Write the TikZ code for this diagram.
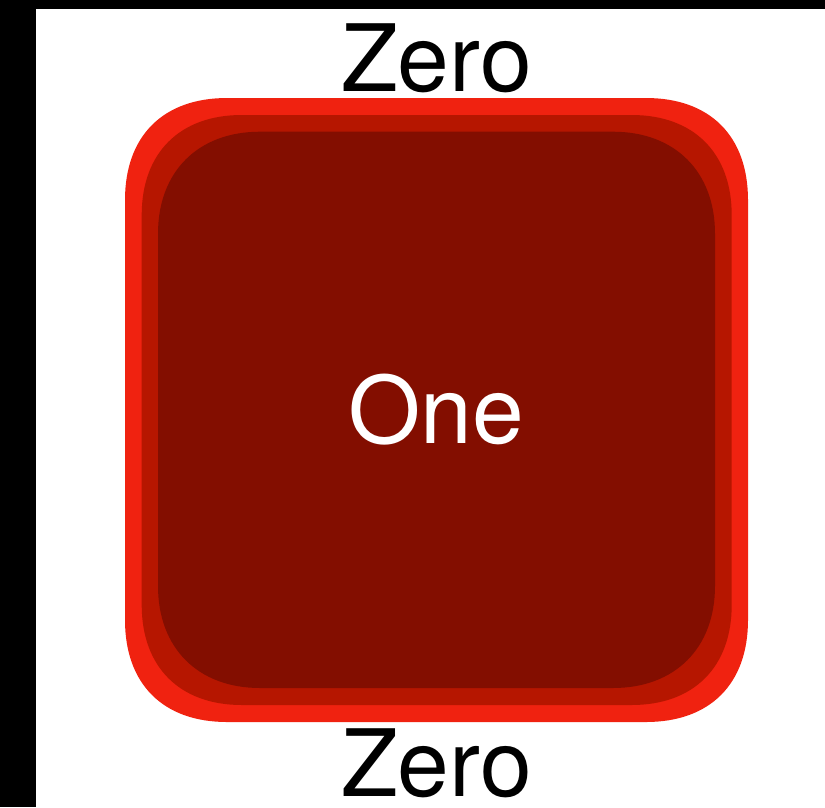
\documentclass[tikz,border=0pt]{standalone}
\usepackage{fontspec}
\setmainfont{TeX Gyre Heros}
\usepackage{tikz}
\usetikzlibrary{positioning}
\definecolor{bandred}{RGB}{240,34,16}
\definecolor{midred}{RGB}{182,22,0}
\definecolor{corered}{RGB}{131,14,0}
% soft-cornered square: colour, x0, y0, x1, y1, corner length, control
\newcommand{\softsquare}[7]{%
  \fill[#1] (#2+#6,#3) -- (#4-#6,#3)
    .. controls (#4-#7,#3) and (#4,#3+#7) .. (#4,#3+#6) -- (#4,#5-#6)
    .. controls (#4,#5-#7) and (#4-#7,#5) .. (#4-#6,#5) -- (#2+#6,#5)
    .. controls (#2+#7,#5) and (#2,#5-#7) .. (#2,#5-#6) -- (#2,#3+#6)
    .. controls (#2,#3+#7) and (#2+#7,#3) .. cycle;}

\begin{document}
\begin{tikzpicture}[
    x=1pt, y=-1pt,
    band/.style={rectangle, inner sep=0, outer sep=0},
    labeltext/.style={inner sep=0, font=\fontsize{93}{110}\selectfont},
]
    \useasboundingbox (0,0) rectangle (825,807);

    % Black edges
    \fill[black] (0,0) rectangle (825,9);
    \fill[black] (0,0) rectangle (36,807);

    % Layers of the box
    \softsquare{bandred}{125}{98}{748}{722}{102}{38}
    \softsquare{midred}{141.7}{115}{731.7}{705}{100}{38}
    \softsquare{corered}{158}{131.7}{715}{688}{102}{40}
    \node[band, minimum width=623pt, minimum height=624pt] (frame) at (436.5,410) {};
    \node[labeltext, text=white] (one) at (frame.center) {One};

    % Labels
    \node[labeltext, above=7pt of frame, anchor=base] (zerotop) {Zero};
    \node[labeltext, below=74pt of frame, anchor=base] (zerobottom) {Zero};

\end{tikzpicture}
\end{document}
